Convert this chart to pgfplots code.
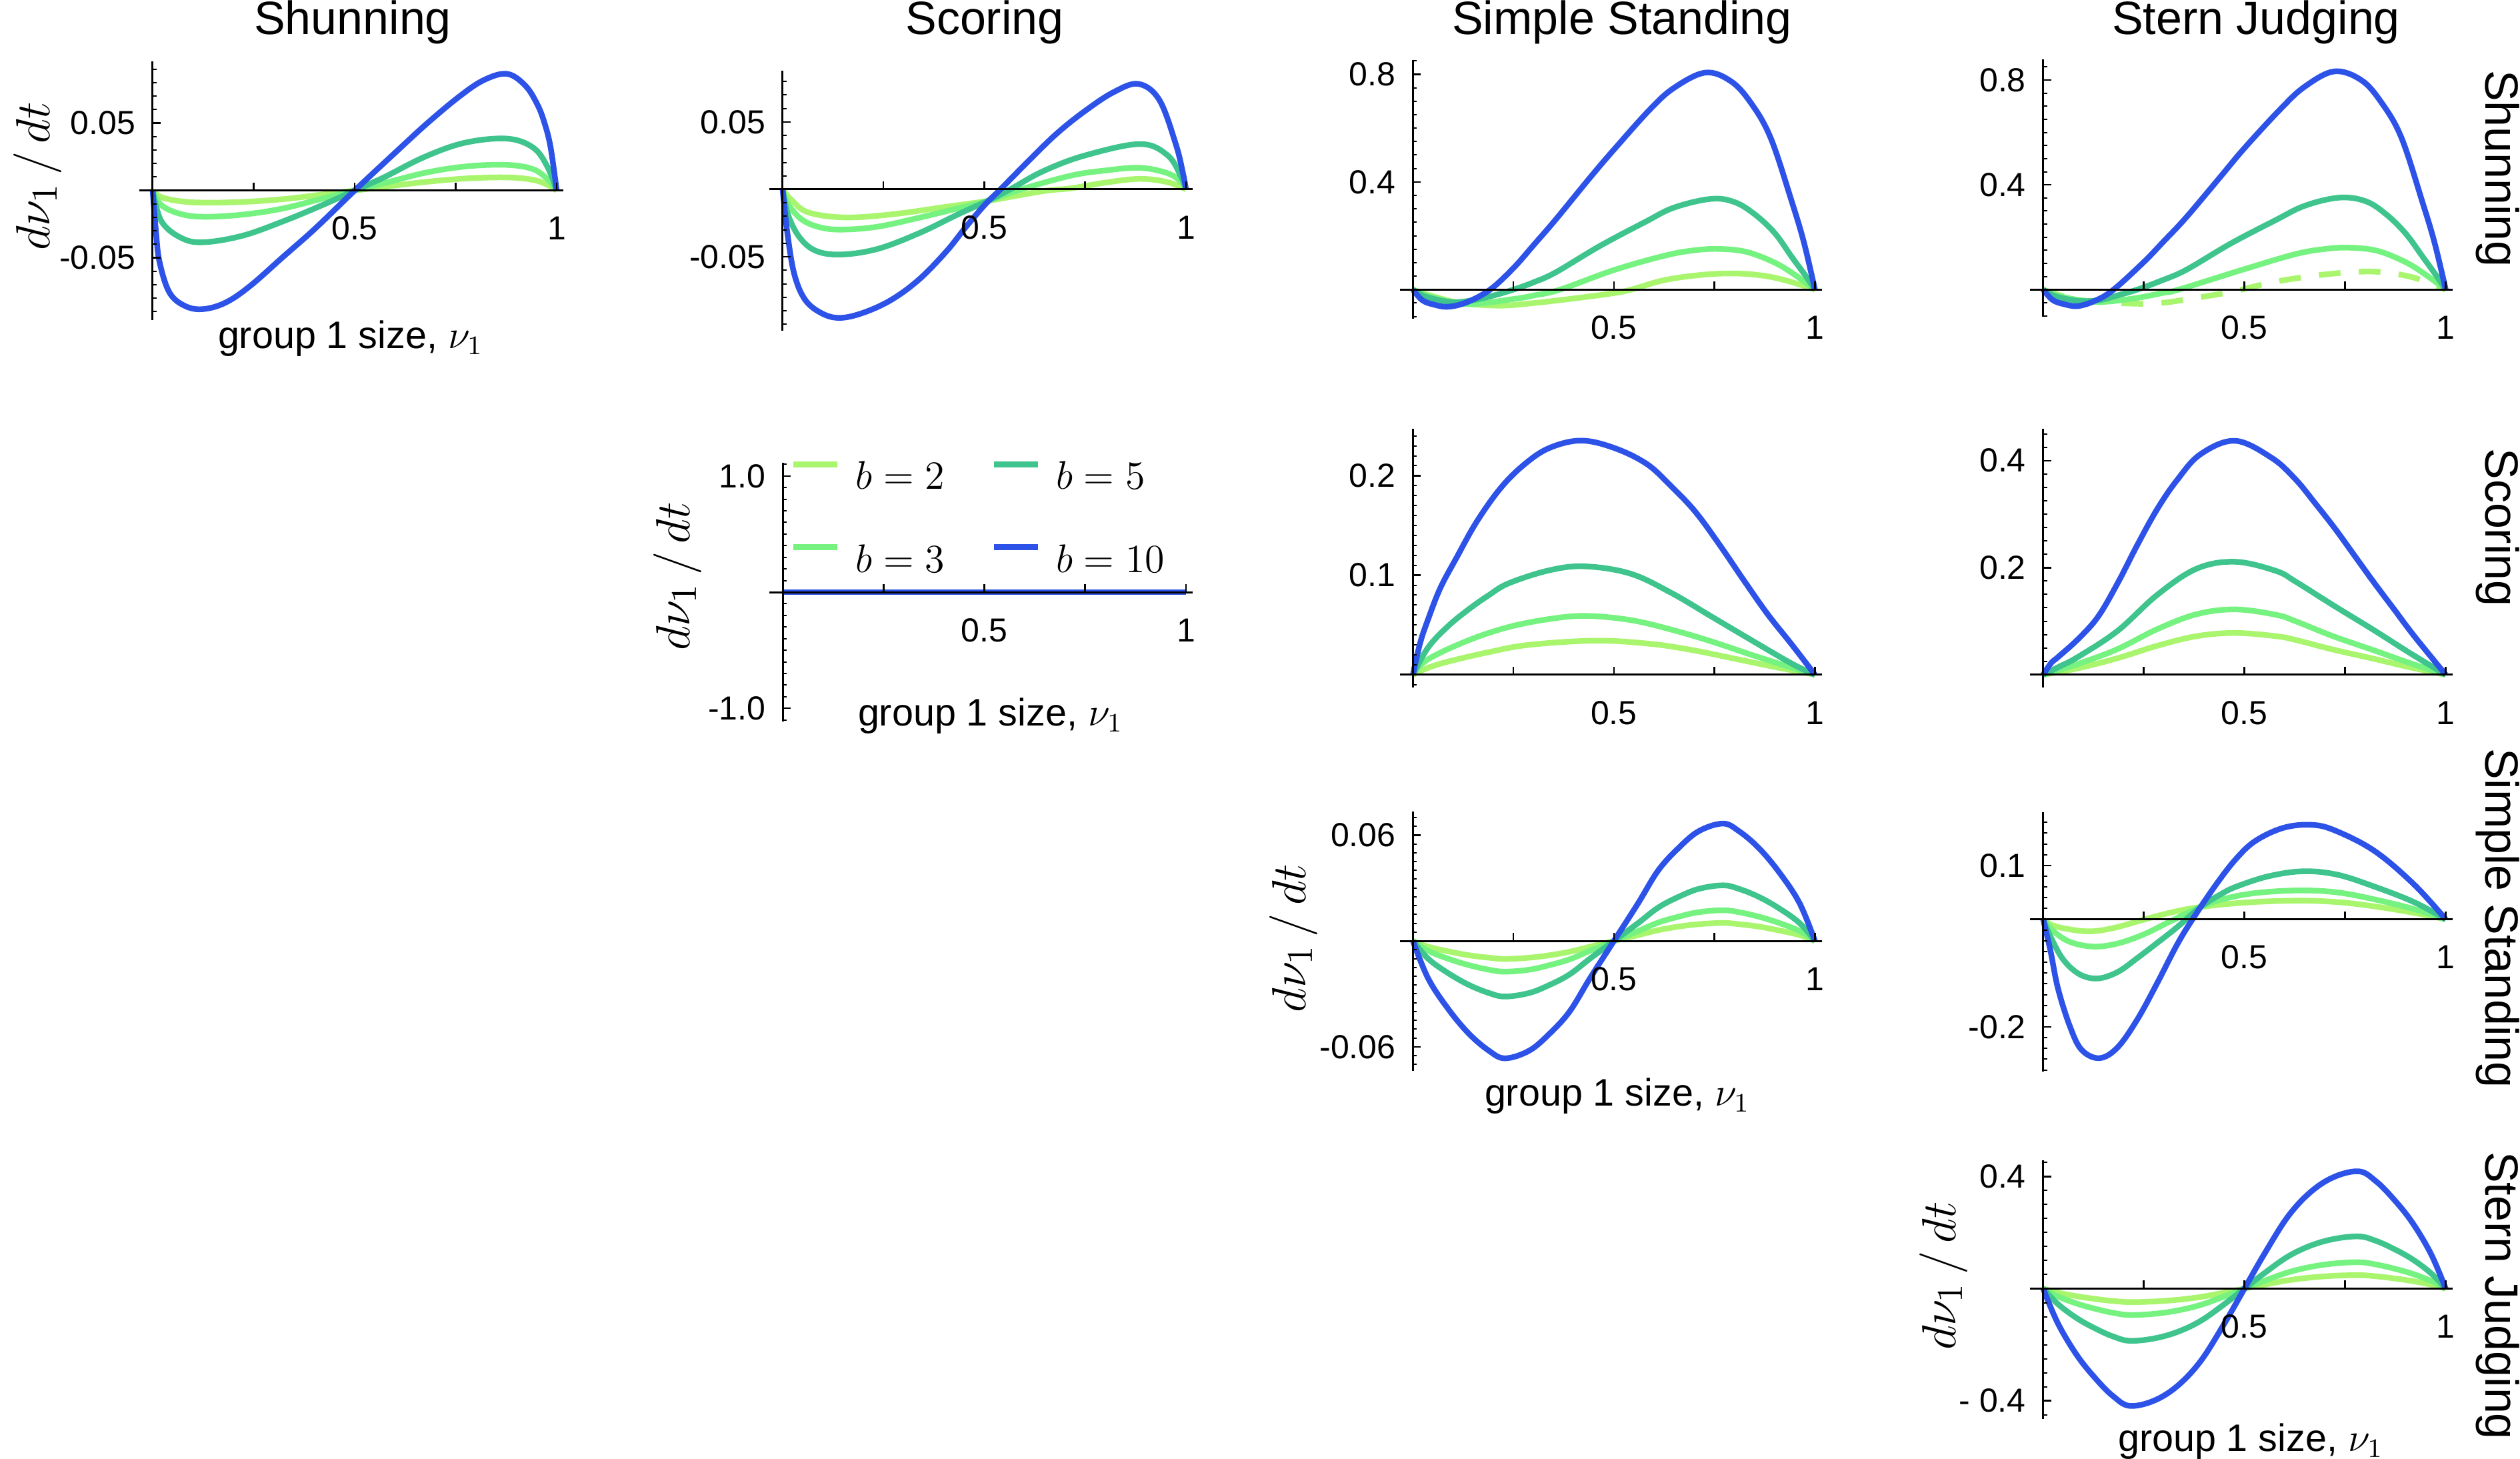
\documentclass[border=0pt]{standalone}
\usepackage{fontspec}
\setmainfont{Liberation Sans}
\usepackage{pgfplots}
\pgfplotsset{compat=1.18}
\definecolor{cB}{HTML}{AAF56E}
\definecolor{cC}{HTML}{76F280}
\definecolor{cE}{HTML}{3EC48C}
\definecolor{cJ}{HTML}{2D52E8}
\pgfplotsset{
  mma/.style={
    scale only axis, axis lines=middle, axis on top,
    scaled ticks=false,
    axis line style={-, black, line width=0.6pt},
    every inner x axis line/.append style={-},
    every inner y axis line/.append style={-},
    xmin=-0.033, xmax=1.017,
    xtick={0.25,0.5,0.75,1}, xticklabels={,0.5,,1},
    tick align=inside, major tick length=2.4pt, minor tick length=1.2pt,
    tick style={black, line width=0.5pt},
    minor tick style={black, line width=0.4pt},
    tick label style={font=\fontsize{10}{12}\selectfont},
    xticklabel style={anchor=center, yshift=-11.4pt, inner sep=0pt},
    yticklabel style={anchor=east, inner sep=0pt, xshift=-5pt},
    anchor=south west,
    every axis plot/.append style={line width=1.7pt, smooth, tension=0.6},
  },
  b2/.style={color=cB}, b3/.style={color=cC}, b5/.style={color=cE}, b10/.style={color=cJ},
}
\newcommand\ttl{\fontsize{14}{16}\selectfont}
\newcommand\xl{\fontsize{11.5}{13}\selectfont group 1 size, $\nu_1$}
\newcommand\yl{\fontsize{15.5}{17}\selectfont $d\nu_1\,/\,dt$}
\begin{document}
\begin{tikzpicture}
\useasboundingbox (0,0) rectangle (756pt,437.4pt);
% ---------------- A: Shunning / Shunning
\begin{axis}[mma, at={(41.8pt,341.48pt)}, width=127.26pt, height=77.57pt,
  ymin=-0.096, ymax=0.096, ytick={-0.05,0.05}, yticklabels={-0.05,0.05},
  minor ytick={-0.09,-0.08,...,0.09}]
\addplot[b2] coordinates {(0,0)(0.022,-0.005)(0.07,-0.008)(0.127,-0.009)(0.22,-0.0085)(0.32,-0.0065)(0.42,-0.003)(0.5,0)(0.58,0.003)(0.68,0.0065)(0.78,0.009)(0.877,0.0097)(0.94,0.008)(0.975,0.0045)(1,0)};
\addplot[b3] coordinates {(0,0)(0.022,-0.011)(0.07,-0.0175)(0.127,-0.0195)(0.22,-0.018)(0.32,-0.0135)(0.42,-0.006)(0.5,0)(0.58,0.006)(0.68,0.0135)(0.78,0.018)(0.877,0.019)(0.94,0.016)(0.975,0.009)(1,0)};
\addplot[b5] coordinates {(0,0)(0.022,-0.023)(0.072,-0.0354)(0.127,-0.0384)(0.222,-0.0336)(0.322,-0.023)(0.422,-0.0106)(0.5,0)(0.572,0.0097)(0.672,0.0248)(0.772,0.0354)(0.877,0.0385)(0.942,0.0318)(0.977,0.0177)(1,0)};
\addplot[b10] coordinates {(0,0)(0.008,-0.03)(0.017,-0.053)(0.042,-0.076)(0.082,-0.086)(0.127,-0.088)(0.182,-0.083)(0.242,-0.0707)(0.322,-0.0495)(0.402,-0.0283)(0.5,0)(0.6,0.028)(0.68,0.05)(0.76,0.07)(0.82,0.082)(0.877,0.0866)(0.922,0.078)(0.952,0.064)(0.97,0.05)(0.985,0.032)(1,0)};
\end{axis}
% ---------------- B: Scoring col / Shunning row
\begin{axis}[mma, at={(230.8pt,338.26pt)}, width=127.05pt, height=77.85pt,
  ymin=-0.1047, ymax=0.0878, ytick={-0.05,0.05}, yticklabels={-0.05,0.05},
  minor ytick={-0.1,-0.09,...,0.08}]
\addplot[b2] coordinates {(0,0)(0.022,-0.0079)(0.063,-0.017)(0.152,-0.0208)(0.269,-0.0186)(0.406,-0.0129)(0.509,-0.0085)(0.646,-0.0013)(0.715,0.0008)(0.8,0.005)(0.886,0.0078)(0.955,0.0053)(1,0)};
\addplot[b3] coordinates {(0,0)(0.014,-0.0112)(0.049,-0.0227)(0.0975,-0.0285)(0.152,-0.0298)(0.235,-0.0277)(0.3375,-0.0211)(0.44,-0.0137)(0.509,-0.0085)(0.591,0)(0.715,0.0102)(0.8,0.014)(0.886,0.016)(0.955,0.0119)(0.989,0.0053)(1,0)};
\addplot[b5] coordinates {(0,0)(0.014,-0.0194)(0.043,-0.036)(0.084,-0.0458)(0.146,-0.0483)(0.235,-0.0442)(0.3375,-0.0326)(0.44,-0.0178)(0.509,-0.0085)(0.564,0)(0.646,0.0135)(0.749,0.0251)(0.886,0.0336)(0.955,0.0251)(0.989,0.0086)(1,0)};
\addplot[b10] coordinates {(0,0)(0.012,-0.033)(0.029,-0.063)(0.056,-0.082)(0.0975,-0.092)(0.142,-0.0953)(0.2,-0.0915)(0.269,-0.082)(0.3375,-0.067)(0.406,-0.046)(0.454,-0.028)(0.502,-0.0112)(0.54,0)(0.612,0.0218)(0.68,0.0415)(0.749,0.058)(0.82,0.072)(0.882,0.0782)(0.934,0.0663)(0.975,0.0333)(0.9926,0.0119)(1,0)};
\end{axis}
% ---------------- C: Simple Standing col / Shunning row
\begin{axis}[mma, at={(419.9pt,341.82pt)}, width=126.63pt, height=77.5pt,
  ymin=-0.108, ymax=0.852, ytick={0.4,0.8}, yticklabels={0.4,0.8},
  minor ytick={-0.1,-0.05,...,0.85}]
\addplot[b2] coordinates {(0,0)(0.05,-0.025)(0.12,-0.05)(0.217,-0.0595)(0.3,-0.05)(0.4,-0.033)(0.5,-0.013)(0.543,0)(0.626,0.0354)(0.72,0.055)(0.8,0.06)(0.87,0.052)(0.93,0.033)(1,0)};
\addplot[b3] coordinates {(0,0)(0.04,-0.025)(0.134,-0.054)(0.25,-0.035)(0.3,-0.022)(0.366,0)(0.5,0.0726)(0.626,0.126)(0.7,0.146)(0.762,0.151)(0.83,0.14)(0.9,0.1)(0.95,0.055)(1,0)};
\addplot[b5] coordinates {(0,0)(0.03,-0.025)(0.087,-0.045)(0.134,-0.043)(0.189,-0.0265)(0.25,0)(0.3,0.027)(0.355,0.064)(0.465,0.162)(0.576,0.25)(0.65,0.305)(0.742,0.337)(0.8,0.325)(0.85,0.28)(0.9,0.21)(0.943,0.12)(0.975,0.055)(1,0)};
\addplot[b10] coordinates {(0,0)(0.023,-0.039)(0.05,-0.055)(0.087,-0.0637)(0.134,-0.047)(0.192,0)(0.25,0.08)(0.3,0.165)(0.355,0.26)(0.44,0.415)(0.5,0.52)(0.59,0.67)(0.65,0.75)(0.727,0.806)(0.79,0.775)(0.84,0.695)(0.89,0.563)(0.943,0.324)(0.973,0.173)(1,0)};
\end{axis}
% ---------------- D: Stern Judging col / Shunning row
\begin{axis}[mma, at={(608.96pt,342.3pt)}, width=126.8pt, height=77.38pt,
  ymin=-0.105, ymax=0.88, ytick={0.4,0.8}, yticklabels={0.4,0.8},
  minor ytick={-0.1,-0.05,...,0.85}]
\addplot[b2, dash pattern=on 6.5pt off 5.5pt] coordinates {(0,0)(0.05,-0.025)(0.12,-0.045)(0.234,-0.054)(0.3,-0.05)(0.37,-0.034)(0.47,-0.008)(0.57,0.028)(0.665,0.051)(0.745,0.064)(0.83,0.068)(0.92,0.046)(1,0)};
\addplot[b3] coordinates {(0,0)(0.04,-0.025)(0.13,-0.047)(0.22,-0.035)(0.3,-0.012)(0.337,0)(0.5,0.078)(0.626,0.135)(0.7,0.155)(0.76,0.16)(0.83,0.148)(0.9,0.105)(0.95,0.057)(1,0)};
\addplot[b5] coordinates {(0,0)(0.03,-0.025)(0.086,-0.043)(0.14,-0.04)(0.19,-0.02)(0.234,0)(0.29,0.032)(0.355,0.075)(0.465,0.175)(0.576,0.264)(0.65,0.32)(0.735,0.351)(0.8,0.338)(0.85,0.29)(0.9,0.215)(0.943,0.125)(0.975,0.057)(1,0)};
\addplot[b10] coordinates {(0,0)(0.023,-0.039)(0.05,-0.055)(0.086,-0.063)(0.13,-0.042)(0.175,0)(0.25,0.105)(0.3,0.185)(0.355,0.275)(0.44,0.43)(0.5,0.54)(0.59,0.69)(0.65,0.775)(0.723,0.833)(0.79,0.8)(0.84,0.715)(0.89,0.58)(0.943,0.33)(0.973,0.175)(1,0)};
\end{axis}
% ---------------- E: Scoring / Scoring (with legend)
\begin{axis}[mma, at={(230.84pt,220.98pt)}, width=127pt, height=77.6pt,
  ymin=-1.114, ymax=1.113, ytick={-1,1}, yticklabels={-1.0,1.0},
  minor ytick={-1.1,-1.0,...,1.1},
  legend columns=2, transpose legend, legend cell align=left,
  legend image code/.code={\draw[#1, line width=1.8pt] (0pt,4pt) -- (13.2pt,4pt);},
  legend style={draw=none, fill=none, at={(axis cs:0.0195,1.124)}, anchor=north west,
    inner sep=0pt, outer sep=0pt, row sep=15pt, column sep=4.5pt,
    font=\fontsize{11.5}{13}\selectfont,
    nodes={inner sep=0pt},
    /tikz/every even column/.append style={column sep=14pt}}]
\addplot[b2] coordinates {(0,0)(1,0)}; \addlegendentry{$b=2$}
\addplot[b3] coordinates {(0,0)(1,0)}; \addlegendentry{$b=3$}
\addplot[b5] coordinates {(0,0)(1,0)}; \addlegendentry{$b=5$}
\addplot[b10] coordinates {(0,0)(1,0)}; \addlegendentry{$b=10$}
\end{axis}
% ---------------- F: Simple Standing col / Scoring row
\begin{axis}[mma, at={(419.9pt,231.16pt)}, width=126.63pt, height=77.58pt,
  ymin=-0.013, ymax=0.247, ytick={0.1,0.2}, yticklabels={0.1,0.2},
  minor ytick={-0.01,0,...,0.24}]
\addplot[b2] coordinates {(0,0)(0.038,0.007)(0.088,0.0132)(0.189,0.0227)(0.289,0.030)(0.455,0.0342)(0.591,0.031)(0.691,0.025)(0.792,0.0168)(0.892,0.0084)(1,0)};
\addplot[b3] coordinates {(0,0)(0.038,0.0156)(0.139,0.0347)(0.239,0.048)(0.34,0.056)(0.43,0.0591)(0.54,0.055)(0.641,0.0455)(0.742,0.0335)(0.842,0.020)(0.943,0.007)(1,0)};
\addplot[b5] coordinates {(0,0)(0.038,0.0275)(0.088,0.049)(0.139,0.0658)(0.189,0.080)(0.239,0.092)(0.34,0.105)(0.428,0.1089)(0.54,0.1017)(0.641,0.0826)(0.742,0.0586)(0.842,0.0347)(0.943,0.011)(1,0)};
\addplot[b10] coordinates {(0,0)(0.018,0.032)(0.038,0.056)(0.068,0.087)(0.109,0.118)(0.159,0.154)(0.219,0.188)(0.279,0.212)(0.34,0.228)(0.418,0.2353)(0.5,0.228)(0.581,0.212)(0.641,0.19)(0.702,0.164)(0.762,0.131)(0.822,0.0955)(0.882,0.061)(0.943,0.030)(1,0)};
\end{axis}
% ---------------- G: Stern Judging col / Scoring row
\begin{axis}[mma, at={(608.96pt,231.18pt)}, width=126.8pt, height=77.7pt,
  ymin=-0.024, ymax=0.46, ytick={0.2,0.4}, yticklabels={0.2,0.4},
  minor ytick={0,0.025,...,0.45}]
\addplot[b2] coordinates {(0,0)(0.086,0.012)(0.185,0.031)(0.283,0.054)(0.381,0.072)(0.477,0.078)(0.578,0.072)(0.627,0.065)(0.72,0.047)(0.82,0.03)(0.91,0.014)(1,0)};
\addplot[b3] coordinates {(0,0)(0.086,0.02)(0.185,0.048)(0.283,0.085)(0.381,0.113)(0.477,0.122)(0.578,0.112)(0.627,0.1)(0.72,0.072)(0.82,0.046)(0.91,0.022)(1,0)};
\addplot[b5] coordinates {(0,0)(0.037,0.014)(0.086,0.033)(0.185,0.082)(0.283,0.149)(0.381,0.198)(0.477,0.211)(0.578,0.194)(0.627,0.174)(0.72,0.13)(0.82,0.084)(0.91,0.041)(1,0)};
\addplot[b10] coordinates {(0,0)(0.02,0.022)(0.037,0.033)(0.086,0.066)(0.136,0.108)(0.185,0.171)(0.234,0.2425)(0.283,0.309)(0.332,0.363)(0.391,0.412)(0.477,0.437)(0.568,0.405)(0.627,0.365)(0.676,0.32)(0.725,0.273)(0.774,0.222)(0.823,0.171)(0.872,0.122)(0.921,0.073)(1,0)};
\end{axis}
% ---------------- H: Simple Standing / Simple Standing
\begin{axis}[mma, at={(419.9pt,116.22pt)}, width=126.63pt, height=77.82pt,
  ymin=-0.0736, ymax=0.0734, ytick={-0.06,0.06}, yticklabels={-0.06,0.06},
  minor ytick={-0.07,-0.065,...,0.07}]
\addplot[b2] coordinates {(0,0)(0.038,-0.0033)(0.088,-0.0059)(0.139,-0.0081)(0.189,-0.0095)(0.229,-0.0102)(0.289,-0.0095)(0.34,-0.0081)(0.39,-0.0061)(0.44,-0.0033)(0.5,0)(0.56,0.0033)(0.61,0.0061)(0.66,0.0081)(0.711,0.0095)(0.771,0.0102)(0.811,0.0095)(0.861,0.0081)(0.912,0.0059)(0.962,0.0033)(1,0)};
\addplot[b3] coordinates {(0,0)(0.038,-0.0056)(0.088,-0.0101)(0.139,-0.0137)(0.189,-0.0163)(0.229,-0.0174)(0.289,-0.0163)(0.34,-0.0137)(0.39,-0.0104)(0.44,-0.0056)(0.5,0)(0.56,0.0056)(0.61,0.0104)(0.66,0.0137)(0.711,0.0163)(0.771,0.0174)(0.811,0.0163)(0.861,0.0137)(0.912,0.0101)(0.962,0.0056)(1,0)};
\addplot[b5] coordinates {(0,0)(0.038,-0.0101)(0.088,-0.0183)(0.139,-0.0249)(0.189,-0.0295)(0.229,-0.0315)(0.289,-0.0295)(0.34,-0.0249)(0.39,-0.0189)(0.44,-0.0101)(0.5,0)(0.56,0.0101)(0.61,0.0189)(0.66,0.0249)(0.711,0.0295)(0.771,0.0315)(0.811,0.0295)(0.861,0.0249)(0.912,0.0183)(0.962,0.0101)(1,0)};
\addplot[b10] coordinates {(0,0)(0.038,-0.0213)(0.088,-0.0386)(0.139,-0.0525)(0.189,-0.0622)(0.229,-0.0665)(0.289,-0.0622)(0.34,-0.0525)(0.39,-0.0399)(0.44,-0.0213)(0.5,0)(0.56,0.0213)(0.61,0.0399)(0.66,0.0525)(0.711,0.0622)(0.771,0.0665)(0.811,0.0622)(0.861,0.0525)(0.912,0.0386)(0.962,0.0213)(1,0)};
\end{axis}
% ---------------- I: Stern Judging col / Simple Standing row
\begin{axis}[mma, at={(608.96pt,116pt)}, width=126.8pt, height=77.8pt,
  ymin=-0.283, ymax=0.199, ytick={-0.2,0.1}, yticklabels={-0.2,0.1},
  minor ytick={-0.28,-0.26,...,0.18}]
\addplot[b2] coordinates {(0,0)(0.03,-0.013)(0.106,-0.0223)(0.17,-0.017)(0.253,0)(0.32,0.013)(0.391,0.0228)(0.5,0.031)(0.627,0.0346)(0.73,0.032)(0.823,0.024)(0.921,0.012)(1,0)};
\addplot[b3] coordinates {(0,0)(0.03,-0.025)(0.07,-0.043)(0.126,-0.0507)(0.185,-0.045)(0.25,-0.028)(0.31,-0.006)(0.391,0.0228)(0.45,0.038)(0.53,0.049)(0.637,0.0536)(0.73,0.05)(0.823,0.037)(0.921,0.019)(1,0)};
\addplot[b5] coordinates {(0,0)(0.02,-0.035)(0.05,-0.075)(0.09,-0.102)(0.135,-0.110)(0.185,-0.098)(0.234,-0.072)(0.283,-0.044)(0.332,-0.0152)(0.391,0.0228)(0.44,0.046)(0.48,0.0607)(0.56,0.080)(0.646,0.0892)(0.73,0.083)(0.823,0.0607)(0.921,0.032)(1,0)};
\addplot[b10] coordinates {(0,0)(0.018,-0.058)(0.037,-0.129)(0.067,-0.2)(0.096,-0.243)(0.14,-0.258)(0.185,-0.238)(0.234,-0.186)(0.283,-0.119)(0.332,-0.048)(0.371,0)(0.43,0.065)(0.48,0.113)(0.528,0.146)(0.597,0.17)(0.666,0.1755)(0.725,0.165)(0.823,0.127)(0.921,0.065)(1,0)};
\end{axis}
% ---------------- J: Stern Judging / Stern Judging
\begin{axis}[mma, at={(608.96pt,11.8pt)}, width=126.8pt, height=77.7pt,
  ymin=-0.465, ymax=0.459, ytick={-0.4,0.4}, yticklabels={- 0.4,0.4},
  minor ytick={-0.45,-0.4,...,0.45}]
\addplot[b2] coordinates {(0,0)(0.037,-0.0144)(0.086,-0.0278)(0.136,-0.038)(0.175,-0.0443)(0.214,-0.048)(0.273,-0.0461)(0.332,-0.0401)(0.391,-0.0298)(0.45,-0.0144)(0.5,0)(0.55,0.0144)(0.609,0.0298)(0.668,0.0401)(0.727,0.0461)(0.786,0.048)(0.825,0.0443)(0.864,0.038)(0.914,0.0278)(0.963,0.0144)(1,0)};
\addplot[b3] coordinates {(0,0)(0.037,-0.0281)(0.086,-0.0545)(0.136,-0.0743)(0.175,-0.0866)(0.214,-0.094)(0.273,-0.0902)(0.332,-0.0785)(0.391,-0.0583)(0.45,-0.0281)(0.5,0)(0.55,0.0281)(0.609,0.0583)(0.668,0.0785)(0.727,0.0902)(0.786,0.094)(0.825,0.0866)(0.864,0.0743)(0.914,0.0545)(0.963,0.0281)(1,0)};
\addplot[b5] coordinates {(0,0)(0.037,-0.0556)(0.086,-0.1077)(0.136,-0.1469)(0.175,-0.1713)(0.214,-0.186)(0.273,-0.1784)(0.332,-0.1553)(0.391,-0.1153)(0.45,-0.0556)(0.5,0)(0.55,0.0556)(0.609,0.1153)(0.668,0.1553)(0.727,0.1784)(0.786,0.186)(0.825,0.1713)(0.864,0.1469)(0.914,0.1077)(0.963,0.0556)(1,0)};
\addplot[b10] coordinates {(0,0)(0.037,-0.125)(0.086,-0.242)(0.136,-0.33)(0.175,-0.385)(0.214,-0.418)(0.273,-0.401)(0.332,-0.349)(0.391,-0.259)(0.45,-0.125)(0.5,0)(0.55,0.125)(0.609,0.259)(0.668,0.349)(0.727,0.401)(0.786,0.418)(0.825,0.385)(0.864,0.33)(0.914,0.242)(0.963,0.125)(1,0)};
\end{axis}
% ---------------- texts
\node[anchor=base, font=\ttl] at (105.8pt,427pt) {Shunning};
\node[anchor=base, font=\ttl] at (295.4pt,427pt) {Scoring};
\node[anchor=base, font=\ttl] at (486.6pt,427pt) {Simple Standing};
\node[anchor=base, font=\ttl] at (676.8pt,427pt) {Stern Judging};
\node[anchor=base, rotate=-90, font=\ttl] at (745.6pt,386.8pt) {Shunning};
\node[anchor=base, rotate=-90, font=\ttl] at (745.6pt,279.2pt) {Scoring};
\node[anchor=base, rotate=-90, font=\ttl] at (745.6pt,162pt) {Simple Standing};
\node[anchor=base, rotate=-90, font=\ttl] at (745.6pt,48.8pt) {Stern Judging};
\node[anchor=base] at (105.2pt,332.8pt) {\xl};
\node[anchor=base] at (297.2pt,219.7pt) {\xl};
\node[anchor=base] at (485.2pt,105.7pt) {\xl};
\node[anchor=base] at (675.2pt,2.1pt) {\xl};
\node[rotate=90] at (11.4pt,384.5pt) {\yl};
\node[rotate=90] at (203.2pt,264.5pt) {\yl};
\node[rotate=90] at (388pt,156pt) {\yl};
\node[rotate=90] at (583pt,54.7pt) {\yl};
\end{tikzpicture}
\end{document}
